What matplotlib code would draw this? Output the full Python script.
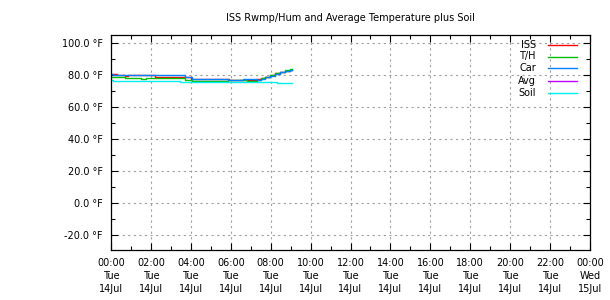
import matplotlib
matplotlib.use("Agg")
import matplotlib.pyplot as plt
from matplotlib.lines import Line2D
from matplotlib.ticker import MultipleLocator, FixedLocator

# hours since 00:00 Tue 14 Jul, temperatures in deg F (step data)
iss_h = [0.0, 0.3, 0.7, 0.85, 2.2, 2.5, 3.0, 3.3, 3.7, 4.0, 5.2, 5.4, 5.9, 6.6, 7.0, 7.3, 7.5, 7.72, 7.97, 8.22, 8.47, 8.72, 8.97, 9.05]
iss_t = [80.4, 79.8, 79.4, 79.8, 78.6, 79.0, 78.6, 79.0, 78.5, 77.5, 77.3, 77.5, 76.9, 76.9, 77.1, 77.2, 78.0, 79.0, 80.0, 81.0, 81.7, 82.7, 83.1, 83.1]

th_h = [0.0, 0.7, 1.5, 1.75, 3.7, 4.04, 5.88, 6.8, 7.3, 7.5, 7.72, 7.97, 8.22, 8.47, 8.72, 8.97, 9.05]
th_t = [78.5, 77.9, 77.5, 77.9, 76.9, 76.4, 76.9, 76.4, 76.6, 77.8, 78.8, 79.9, 81.0, 82.0, 83.2, 83.5, 83.5]

car_h = [0.0, 0.1, 3.7, 4.04, 5.88, 6.6, 7.3, 7.5, 7.72, 7.97, 8.22, 8.47, 8.72, 8.97, 9.05]
car_t = [80.6, 79.8, 78.7, 77.5, 76.9, 77.2, 77.0, 77.6, 78.5, 79.6, 80.6, 81.6, 82.3, 82.8, 82.8]

avg_h = []
avg_t = []

soil_h = [0.0, 0.1, 3.45, 8.3, 9.05]
soil_t = [76.9, 76.2, 75.4, 74.8, 74.8]

series = [("ISS", iss_h, iss_t, "#ff0000"),
          ("T/H", th_h, th_t, "#00c000"),
          ("Car", car_h, car_t, "#0080ff"),
          ("Avg", avg_h, avg_t, "#c000ff"),
          ("Soil", soil_h, soil_t, "#00eeee")]

x_ticks = list(range(0, 25, 2))
x_labels = ["%02d:00\nTue\n14Jul" % h for h in range(0, 24, 2)] + ["00:00\nWed\n15Jul"]
y_ticks = [-20, 0, 20, 40, 60, 80, 100]

W, H = 610, 300
fig = plt.figure(figsize=(6.1, 3.0), dpi=100)
ax = fig.add_axes([111 / W, 50 / H, 479 / W, 215 / H])

for name, h, t, c in series:
    ax.plot(h, t, color=c, lw=1, drawstyle="steps-post")

ax.set_xlim(0, 24)
ax.set_ylim(-29.5, 105)
ax.xaxis.set_major_locator(FixedLocator(x_ticks))
ax.set_xticklabels(x_labels, fontsize=7, linespacing=1.35)
ax.xaxis.set_minor_locator(MultipleLocator(1))
ax.yaxis.set_major_locator(FixedLocator(y_ticks))
ax.set_yticklabels(["%.1f °F" % v for v in y_ticks], fontsize=7)
ax.yaxis.set_minor_locator(MultipleLocator(10))
ax.tick_params(which="both", direction="in", top=True, right=True, width=0.8)
ax.tick_params(which="major", length=5, pad=6)
ax.tick_params(which="minor", length=3)
ax.grid(True, which="major", color="#a0a0a0", linestyle=(0, (2, 3)), lw=0.8)
for s in ax.spines.values():
    s.set_linewidth(0.9)

ax.set_title("ISS Rwmp/Hum and Average Temperature plus Soil", fontsize=7, pad=10)

# gnuplot-style key: labels right-aligned, sample line to the right
for i, (name, h, t, c) in enumerate(series):
    yk = 1 - (44.5 + 12 * i) / H
    fig.text(536 / W, yk, name, ha="right", va="center", fontsize=7)
    fig.add_artist(Line2D([548 / W, 577 / W], [yk, yk], color=c, lw=1,
                          transform=fig.transFigure))

fig.savefig("out.png", dpi=100)
